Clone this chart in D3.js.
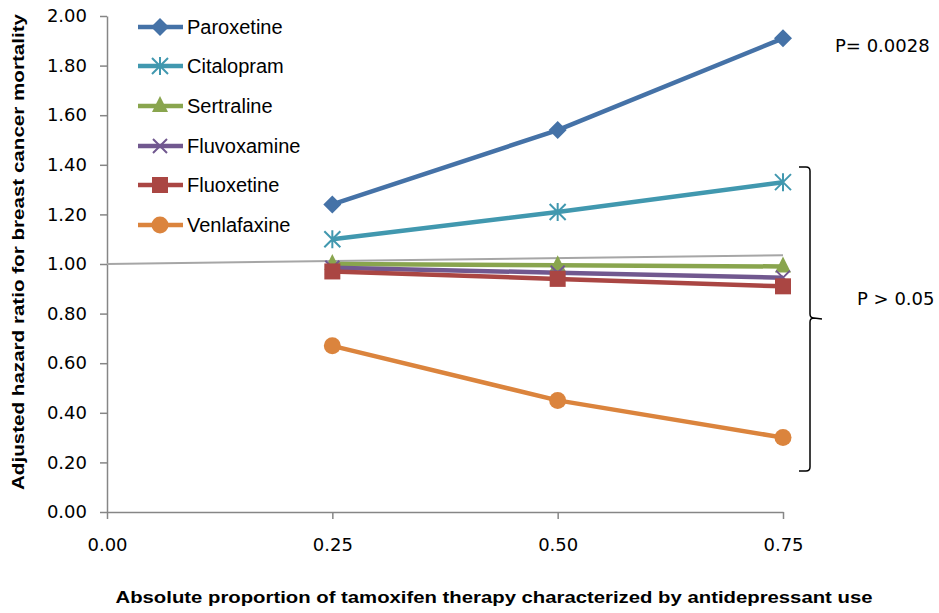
<!DOCTYPE html>
<html><head><meta charset="utf-8">
<script src="https://cdn.jsdelivr.net/npm/d3@7"></script>
<style>body{margin:0;background:#fff;} svg{display:block;}</style>
</head><body>
<svg id="chart" width="939" height="613"></svg>
<script>
const xValues = [0.25, 0.50, 0.75];
const seriesNames = ["Paroxetine","Citalopram","Sertraline","Fluvoxamine","Fluoxetine","Venlafaxine"];
const paroxetine = [1.24, 1.54, 1.91];
const citalopram = [1.10, 1.21, 1.33];
const sertraline = [1.00, 0.995, 0.99];
const fluvoxamine = [0.985, 0.965, 0.945];
const fluoxetine = [0.97, 0.94, 0.91];
const venlafaxine = [0.67, 0.45, 0.30];
const referenceX = [0, 0.75];
const referenceY = [1.00, 1.035];
const yTicks = [0,0.2,0.4,0.6,0.8,1.0,1.2,1.4,1.6,1.8,2.0];
const xTicks = [0, 0.25, 0.5, 0.75];
const colors = ["#4572A7","#4198AF","#89A54E","#71588F","#AA4643","#DB843D"];
const markers = ["diamond","asterisk","triangle","x","square","circle"];
const allValues = [paroxetine, citalopram, sertraline, fluvoxamine, fluoxetine, venlafaxine];

const svg = d3.select("#chart");
const x = d3.scaleLinear().domain([0,0.75]).range([107,783]);
const y = d3.scaleLinear().domain([0,2]).range([512,16]);
const axisColor = "#868686";

// y axis
const yAxis = svg.append("g").attr("transform","translate(107,0)")
  .call(d3.axisLeft(y).tickValues(yTicks).tickSize(7).tickSizeOuter(0).tickFormat(d3.format(".2f")));
yAxis.select(".domain").attr("stroke",axisColor).attr("stroke-width",1.5);
yAxis.selectAll(".tick line").attr("stroke",axisColor).attr("stroke-width",1.5);
yAxis.selectAll(".tick text").attr("font-family","DejaVu Sans").attr("font-size","18px").attr("fill","#000").attr("x",-20);

// x axis
const xAxis = svg.append("g").attr("transform","translate(0,512)")
  .call(d3.axisBottom(x).tickValues(xTicks).tickSize(7).tickSizeOuter(0).tickFormat(d3.format(".2f")));
xAxis.select(".domain").attr("stroke",axisColor).attr("stroke-width",1.5);
xAxis.selectAll(".tick text").attr("font-family","DejaVu Sans").attr("font-size","18px").attr("fill","#000").attr("y",26);
xAxis.selectAll(".tick line").attr("stroke",axisColor).attr("stroke-width",1.5);

// axis titles
svg.append("text").attr("transform","translate(24,252) rotate(-90)").attr("text-anchor","middle")
  .attr("font-family","Liberation Sans").attr("font-weight","bold").attr("font-size","17px")
  .attr("textLength",476).attr("lengthAdjust","spacingAndGlyphs")
  .text("Adjusted hazard ratio for breast cancer mortality");
svg.append("text").attr("x",494).attr("y",603).attr("text-anchor","middle")
  .attr("font-family","Liberation Sans").attr("font-weight","bold").attr("font-size","17px")
  .attr("textLength",757).attr("lengthAdjust","spacingAndGlyphs")
  .text("Absolute proportion of tamoxifen therapy characterized by antidepressant use");

// reference line
const line = d3.line().x(d=>x(d[0])).y(d=>y(d[1]));
svg.append("path").attr("d", line(referenceX.map((v,i)=>[v,referenceY[i]])))
  .attr("stroke","#A6A6A6").attr("stroke-width",2).attr("fill","none");

function drawMarker(g, type, cx, cy, color){
  if(type==="diamond"){
    g.append("path").attr("d",`M${cx},${cy-9}L${cx+9},${cy}L${cx},${cy+9}L${cx-9},${cy}Z`).attr("fill",color);
  } else if(type==="asterisk"){
    const s=8;
    g.append("path").attr("d",`M${cx-s},${cy-s}L${cx+s},${cy+s}M${cx-s},${cy+s}L${cx+s},${cy-s}M${cx},${cy-s-1}L${cx},${cy+s+1}`)
      .attr("stroke",color).attr("stroke-width",2).attr("fill","none");
  } else if(type==="triangle"){
    g.append("path").attr("d",`M${cx},${cy-10}L${cx+8},${cy+6}L${cx-8},${cy+6}Z`).attr("fill",color);
  } else if(type==="x"){
    const s=7;
    g.append("path").attr("d",`M${cx-s},${cy-s}L${cx+s},${cy+s}M${cx-s},${cy+s}L${cx+s},${cy-s}`)
      .attr("stroke",color).attr("stroke-width",2).attr("fill","none");
  } else if(type==="square"){
    g.append("rect").attr("x",cx-8).attr("y",cy-8).attr("width",16).attr("height",16).attr("fill",color);
  } else if(type==="circle"){
    g.append("circle").attr("cx",cx).attr("cy",cy).attr("r",8.5).attr("fill",color);
  }
}

allValues.forEach((vals,i)=>{
  const g = svg.append("g");
  g.append("path").attr("d", line(xValues.map((v,j)=>[v,vals[j]])))
    .attr("stroke",colors[i]).attr("stroke-width",4.5).attr("fill","none").attr("stroke-linejoin","round");
  xValues.forEach((v,j)=>drawMarker(g, markers[i], x(v), y(vals[j]), colors[i]));
});

// legend
const legendY = [27, 66, 106, 146, 185, 225];
seriesNames.forEach((name,i)=>{
  const g = svg.append("g");
  g.append("line").attr("x1",138).attr("x2",183).attr("y1",legendY[i]).attr("y2",legendY[i])
    .attr("stroke",colors[i]).attr("stroke-width",4.5);
  drawMarker(g, markers[i], 160, legendY[i], colors[i]);
  g.append("text").attr("x",187).attr("y",legendY[i]+7).attr("font-family","Liberation Sans")
    .attr("font-size","20px").attr("fill","#000").text(name);
});

// annotations
svg.append("text").attr("x",835).attr("y",52).attr("font-family","DejaVu Sans").attr("font-size","18px").text("P= 0.0028");
svg.append("text").attr("x",857).attr("y",305).attr("font-family","DejaVu Sans").attr("font-size","18px").text("P > 0.05");
svg.append("path").attr("d","M799,167 L806,167 Q810,167 810,171 L810,314 Q810,318 814,318 L822,319 M814,318 Q810,318 810,322 L810,467 Q810,471 806,471 L799,471")
  .attr("stroke","#000").attr("stroke-width",1.5).attr("fill","none");
</script>
</body></html>
